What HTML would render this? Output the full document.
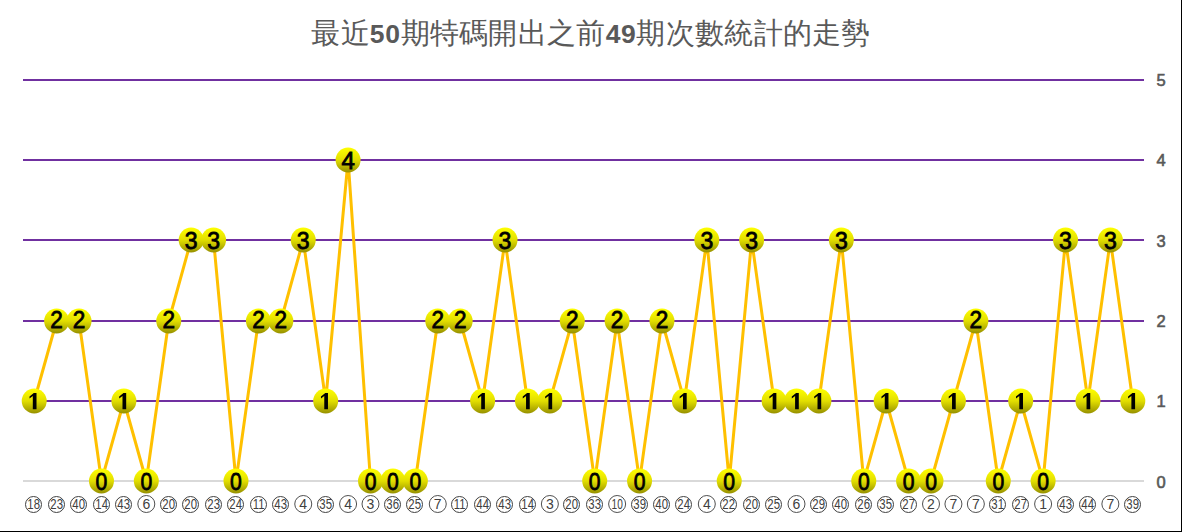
<!DOCTYPE html>
<html><head><meta charset="utf-8"><style>
html,body{margin:0;padding:0;background:#fff;}
body{width:1182px;height:532px;overflow:hidden;position:relative;}
#c{position:absolute;left:0;top:0;width:1181px;height:531px;border-right:1px solid #000;border-bottom:1px solid #000;background:#fff;}
svg{position:absolute;left:0;top:0;}
.ax{font-family:"Liberation Sans",sans-serif;font-size:16.5px;fill:#595959;stroke:#595959;stroke-width:0.6px;}
.mk{font-family:"Liberation Sans",sans-serif;font-size:24px;fill:#000;stroke:#000;stroke-width:0.8px;text-anchor:middle;}
.xl{font-family:"Liberation Sans",sans-serif;font-size:15px;fill:#404040;text-anchor:middle;}
.xl1{font-family:"Liberation Sans",sans-serif;font-size:14px;fill:#404040;text-anchor:middle;}
#t{position:absolute;left:0;top:15px;width:1182px;text-align:center;font-family:"Liberation Serif",serif;font-size:29px;letter-spacing:0.3px;line-height:36px;color:#595959;white-space:nowrap;}
#t b{font-family:"Liberation Sans",sans-serif;font-size:26.5px;letter-spacing:0.6px;}
</style></head><body>
<div id="c"></div>
<svg width="1181" height="531" viewBox="0 0 1181 531">
<defs><linearGradient id="g" x1="0" y1="0" x2="0" y2="1">
<stop offset="0" stop-color="#ffff00"/><stop offset="0.5" stop-color="#e2de00"/><stop offset="1" stop-color="#969000"/></linearGradient></defs>
<rect x="0" y="0" width="1182" height="532" fill="#fff"/>
<rect x="23" y="400" width="1121" height="2" fill="#7030a0"/>
<rect x="23" y="320" width="1121" height="2" fill="#7030a0"/>
<rect x="23" y="239" width="1121" height="2" fill="#7030a0"/>
<rect x="23" y="159" width="1121" height="2" fill="#7030a0"/>
<rect x="23" y="79" width="1121" height="2" fill="#7030a0"/>
<rect x="23" y="480" width="1121" height="2" fill="#d9d9d9"/>
<text x="1156.6" y="488" class="ax">0</text>
<text x="1156.6" y="407" class="ax">1</text>
<text x="1156.6" y="327" class="ax">2</text>
<text x="1156.6" y="247" class="ax">3</text>
<text x="1156.6" y="166" class="ax">4</text>
<text x="1156.6" y="86" class="ax">5</text>
<polyline points="34.21,401 56.63,321 79.05,321 101.47,481 123.89,401 146.31,481 168.73,321 191.15,240 213.57,240 235.99,481 258.41,321 280.83,321 303.25,240 325.67,401 348.09,160 370.51,481 392.93,481 415.35,481 437.77,321 460.19,321 482.61,401 505.03,240 527.45,401 549.87,401 572.29,321 594.71,481 617.13,321 639.55,481 661.97,321 684.39,401 706.81,240 729.23,481 751.65,240 774.07,401 796.49,401 818.91,401 841.33,240 863.75,481 886.17,401 908.59,481 931.01,481 953.43,401 975.85,321 998.27,481 1020.69,401 1043.11,481 1065.53,240 1087.95,401 1110.37,240 1132.79,401" fill="none" stroke="#ffc000" stroke-width="3" stroke-linejoin="round"/>
<circle cx="34.21" cy="401" r="12.5" fill="url(#g)"/>
<polygon points="32.81,409.20 36.51,409.20 36.51,393.00 33.81,393.00 29.51,396.40 29.51,398.40 32.81,396.10" fill="#000"/>
<circle cx="56.63" cy="321" r="12.5" fill="url(#g)"/>
<text transform="translate(56.63,328) scale(0.94,1)" x="0" y="0" class="mk">2</text>
<circle cx="79.05" cy="321" r="12.5" fill="url(#g)"/>
<text transform="translate(79.05,328) scale(0.94,1)" x="0" y="0" class="mk">2</text>
<circle cx="101.47" cy="481" r="12.5" fill="url(#g)"/>
<text transform="translate(101.47,489.5) scale(0.88,1)" x="0" y="0" class="mk">0</text>
<circle cx="123.89" cy="401" r="12.5" fill="url(#g)"/>
<polygon points="122.49,409.20 126.19,409.20 126.19,393.00 123.49,393.00 119.19,396.40 119.19,398.40 122.49,396.10" fill="#000"/>
<circle cx="146.31" cy="481" r="12.5" fill="url(#g)"/>
<text transform="translate(146.31,489.5) scale(0.88,1)" x="0" y="0" class="mk">0</text>
<circle cx="168.73" cy="321" r="12.5" fill="url(#g)"/>
<text transform="translate(168.73,328) scale(0.94,1)" x="0" y="0" class="mk">2</text>
<circle cx="191.15" cy="240" r="12.5" fill="url(#g)"/>
<text transform="translate(191.15,248.5) scale(0.96,1)" x="0" y="0" class="mk">3</text>
<circle cx="213.57" cy="240" r="12.5" fill="url(#g)"/>
<text transform="translate(213.57,248.5) scale(0.96,1)" x="0" y="0" class="mk">3</text>
<circle cx="235.99" cy="481" r="12.5" fill="url(#g)"/>
<text transform="translate(235.99,489.5) scale(0.88,1)" x="0" y="0" class="mk">0</text>
<circle cx="258.41" cy="321" r="12.5" fill="url(#g)"/>
<text transform="translate(258.41,328) scale(0.94,1)" x="0" y="0" class="mk">2</text>
<circle cx="280.83" cy="321" r="12.5" fill="url(#g)"/>
<text transform="translate(280.83,328) scale(0.94,1)" x="0" y="0" class="mk">2</text>
<circle cx="303.25" cy="240" r="12.5" fill="url(#g)"/>
<text transform="translate(303.25,248.5) scale(0.96,1)" x="0" y="0" class="mk">3</text>
<circle cx="325.67" cy="401" r="12.5" fill="url(#g)"/>
<polygon points="324.27,409.20 327.97,409.20 327.97,393.00 325.27,393.00 320.97,396.40 320.97,398.40 324.27,396.10" fill="#000"/>
<circle cx="348.09" cy="160" r="12.5" fill="url(#g)"/>
<text transform="translate(348.09,168.5) scale(1.0,1)" x="0" y="0" class="mk">4</text>
<circle cx="370.51" cy="481" r="12.5" fill="url(#g)"/>
<text transform="translate(370.51,489.5) scale(0.88,1)" x="0" y="0" class="mk">0</text>
<circle cx="392.93" cy="481" r="12.5" fill="url(#g)"/>
<text transform="translate(392.93,489.5) scale(0.88,1)" x="0" y="0" class="mk">0</text>
<circle cx="415.35" cy="481" r="12.5" fill="url(#g)"/>
<text transform="translate(415.35,489.5) scale(0.88,1)" x="0" y="0" class="mk">0</text>
<circle cx="437.77" cy="321" r="12.5" fill="url(#g)"/>
<text transform="translate(437.77,328) scale(0.94,1)" x="0" y="0" class="mk">2</text>
<circle cx="460.19" cy="321" r="12.5" fill="url(#g)"/>
<text transform="translate(460.19,328) scale(0.94,1)" x="0" y="0" class="mk">2</text>
<circle cx="482.61" cy="401" r="12.5" fill="url(#g)"/>
<polygon points="481.21,409.20 484.91,409.20 484.91,393.00 482.21,393.00 477.91,396.40 477.91,398.40 481.21,396.10" fill="#000"/>
<circle cx="505.03" cy="240" r="12.5" fill="url(#g)"/>
<text transform="translate(505.03,248.5) scale(0.96,1)" x="0" y="0" class="mk">3</text>
<circle cx="527.45" cy="401" r="12.5" fill="url(#g)"/>
<polygon points="526.05,409.20 529.75,409.20 529.75,393.00 527.05,393.00 522.75,396.40 522.75,398.40 526.05,396.10" fill="#000"/>
<circle cx="549.87" cy="401" r="12.5" fill="url(#g)"/>
<polygon points="548.47,409.20 552.17,409.20 552.17,393.00 549.47,393.00 545.17,396.40 545.17,398.40 548.47,396.10" fill="#000"/>
<circle cx="572.29" cy="321" r="12.5" fill="url(#g)"/>
<text transform="translate(572.29,328) scale(0.94,1)" x="0" y="0" class="mk">2</text>
<circle cx="594.71" cy="481" r="12.5" fill="url(#g)"/>
<text transform="translate(594.71,489.5) scale(0.88,1)" x="0" y="0" class="mk">0</text>
<circle cx="617.13" cy="321" r="12.5" fill="url(#g)"/>
<text transform="translate(617.13,328) scale(0.94,1)" x="0" y="0" class="mk">2</text>
<circle cx="639.55" cy="481" r="12.5" fill="url(#g)"/>
<text transform="translate(639.55,489.5) scale(0.88,1)" x="0" y="0" class="mk">0</text>
<circle cx="661.97" cy="321" r="12.5" fill="url(#g)"/>
<text transform="translate(661.97,328) scale(0.94,1)" x="0" y="0" class="mk">2</text>
<circle cx="684.39" cy="401" r="12.5" fill="url(#g)"/>
<polygon points="682.99,409.20 686.69,409.20 686.69,393.00 683.99,393.00 679.69,396.40 679.69,398.40 682.99,396.10" fill="#000"/>
<circle cx="706.81" cy="240" r="12.5" fill="url(#g)"/>
<text transform="translate(706.81,248.5) scale(0.96,1)" x="0" y="0" class="mk">3</text>
<circle cx="729.23" cy="481" r="12.5" fill="url(#g)"/>
<text transform="translate(729.23,489.5) scale(0.88,1)" x="0" y="0" class="mk">0</text>
<circle cx="751.65" cy="240" r="12.5" fill="url(#g)"/>
<text transform="translate(751.65,248.5) scale(0.96,1)" x="0" y="0" class="mk">3</text>
<circle cx="774.07" cy="401" r="12.5" fill="url(#g)"/>
<polygon points="772.67,409.20 776.37,409.20 776.37,393.00 773.67,393.00 769.37,396.40 769.37,398.40 772.67,396.10" fill="#000"/>
<circle cx="796.49" cy="401" r="12.5" fill="url(#g)"/>
<polygon points="795.09,409.20 798.79,409.20 798.79,393.00 796.09,393.00 791.79,396.40 791.79,398.40 795.09,396.10" fill="#000"/>
<circle cx="818.91" cy="401" r="12.5" fill="url(#g)"/>
<polygon points="817.51,409.20 821.21,409.20 821.21,393.00 818.51,393.00 814.21,396.40 814.21,398.40 817.51,396.10" fill="#000"/>
<circle cx="841.33" cy="240" r="12.5" fill="url(#g)"/>
<text transform="translate(841.33,248.5) scale(0.96,1)" x="0" y="0" class="mk">3</text>
<circle cx="863.75" cy="481" r="12.5" fill="url(#g)"/>
<text transform="translate(863.75,489.5) scale(0.88,1)" x="0" y="0" class="mk">0</text>
<circle cx="886.17" cy="401" r="12.5" fill="url(#g)"/>
<polygon points="884.77,409.20 888.47,409.20 888.47,393.00 885.77,393.00 881.47,396.40 881.47,398.40 884.77,396.10" fill="#000"/>
<circle cx="908.59" cy="481" r="12.5" fill="url(#g)"/>
<text transform="translate(908.59,489.5) scale(0.88,1)" x="0" y="0" class="mk">0</text>
<circle cx="931.01" cy="481" r="12.5" fill="url(#g)"/>
<text transform="translate(931.01,489.5) scale(0.88,1)" x="0" y="0" class="mk">0</text>
<circle cx="953.43" cy="401" r="12.5" fill="url(#g)"/>
<polygon points="952.03,409.20 955.73,409.20 955.73,393.00 953.03,393.00 948.73,396.40 948.73,398.40 952.03,396.10" fill="#000"/>
<circle cx="975.85" cy="321" r="12.5" fill="url(#g)"/>
<text transform="translate(975.85,328) scale(0.94,1)" x="0" y="0" class="mk">2</text>
<circle cx="998.27" cy="481" r="12.5" fill="url(#g)"/>
<text transform="translate(998.27,489.5) scale(0.88,1)" x="0" y="0" class="mk">0</text>
<circle cx="1020.69" cy="401" r="12.5" fill="url(#g)"/>
<polygon points="1019.29,409.20 1022.99,409.20 1022.99,393.00 1020.29,393.00 1015.99,396.40 1015.99,398.40 1019.29,396.10" fill="#000"/>
<circle cx="1043.11" cy="481" r="12.5" fill="url(#g)"/>
<text transform="translate(1043.11,489.5) scale(0.88,1)" x="0" y="0" class="mk">0</text>
<circle cx="1065.53" cy="240" r="12.5" fill="url(#g)"/>
<text transform="translate(1065.53,248.5) scale(0.96,1)" x="0" y="0" class="mk">3</text>
<circle cx="1087.95" cy="401" r="12.5" fill="url(#g)"/>
<polygon points="1086.55,409.20 1090.25,409.20 1090.25,393.00 1087.55,393.00 1083.25,396.40 1083.25,398.40 1086.55,396.10" fill="#000"/>
<circle cx="1110.37" cy="240" r="12.5" fill="url(#g)"/>
<text transform="translate(1110.37,248.5) scale(0.96,1)" x="0" y="0" class="mk">3</text>
<circle cx="1132.79" cy="401" r="12.5" fill="url(#g)"/>
<polygon points="1131.39,409.20 1135.09,409.20 1135.09,393.00 1132.39,393.00 1128.09,396.40 1128.09,398.40 1131.39,396.10" fill="#000"/>
<circle cx="33.50" cy="504.5" r="8" fill="none" stroke="#404040" stroke-width="1"/>
<text transform="translate(33.70,509) scale(0.76,1)" x="0" y="0" class="xl">18</text>
<circle cx="56.50" cy="504.5" r="8" fill="none" stroke="#404040" stroke-width="1"/>
<text transform="translate(56.70,509) scale(0.76,1)" x="0" y="0" class="xl">23</text>
<circle cx="78.50" cy="504.5" r="8" fill="none" stroke="#404040" stroke-width="1"/>
<text transform="translate(78.70,509) scale(0.76,1)" x="0" y="0" class="xl">40</text>
<circle cx="101.50" cy="504.5" r="8" fill="none" stroke="#404040" stroke-width="1"/>
<text transform="translate(101.70,509) scale(0.76,1)" x="0" y="0" class="xl">14</text>
<circle cx="123.50" cy="504.5" r="8" fill="none" stroke="#404040" stroke-width="1"/>
<text transform="translate(123.70,509) scale(0.76,1)" x="0" y="0" class="xl">43</text>
<circle cx="146.31" cy="504" r="8.5" fill="none" stroke="#505050" stroke-width="1"/>
<text x="146.31" y="509" class="xl1">6</text>
<circle cx="168.50" cy="504.5" r="8" fill="none" stroke="#404040" stroke-width="1"/>
<text transform="translate(168.70,509) scale(0.76,1)" x="0" y="0" class="xl">20</text>
<circle cx="190.50" cy="504.5" r="8" fill="none" stroke="#404040" stroke-width="1"/>
<text transform="translate(190.70,509) scale(0.76,1)" x="0" y="0" class="xl">20</text>
<circle cx="213.50" cy="504.5" r="8" fill="none" stroke="#404040" stroke-width="1"/>
<text transform="translate(213.70,509) scale(0.76,1)" x="0" y="0" class="xl">23</text>
<circle cx="235.50" cy="504.5" r="8" fill="none" stroke="#404040" stroke-width="1"/>
<text transform="translate(235.70,509) scale(0.76,1)" x="0" y="0" class="xl">24</text>
<circle cx="258.50" cy="504.5" r="8" fill="none" stroke="#404040" stroke-width="1"/>
<text transform="translate(258.70,509) scale(0.76,1)" x="0" y="0" class="xl">11</text>
<circle cx="280.50" cy="504.5" r="8" fill="none" stroke="#404040" stroke-width="1"/>
<text transform="translate(280.70,509) scale(0.76,1)" x="0" y="0" class="xl">43</text>
<circle cx="303.25" cy="504" r="8.5" fill="none" stroke="#505050" stroke-width="1"/>
<text x="303.25" y="509" class="xl1">4</text>
<circle cx="325.50" cy="504.5" r="8" fill="none" stroke="#404040" stroke-width="1"/>
<text transform="translate(325.70,509) scale(0.76,1)" x="0" y="0" class="xl">35</text>
<circle cx="348.09" cy="504" r="8.5" fill="none" stroke="#505050" stroke-width="1"/>
<text x="348.09" y="509" class="xl1">4</text>
<circle cx="370.51" cy="504" r="8.5" fill="none" stroke="#505050" stroke-width="1"/>
<text x="370.51" y="509" class="xl1">3</text>
<circle cx="392.50" cy="504.5" r="8" fill="none" stroke="#404040" stroke-width="1"/>
<text transform="translate(392.70,509) scale(0.76,1)" x="0" y="0" class="xl">36</text>
<circle cx="414.50" cy="504.5" r="8" fill="none" stroke="#404040" stroke-width="1"/>
<text transform="translate(414.70,509) scale(0.76,1)" x="0" y="0" class="xl">25</text>
<circle cx="437.77" cy="504" r="8.5" fill="none" stroke="#505050" stroke-width="1"/>
<text x="437.77" y="509" class="xl1">7</text>
<circle cx="459.50" cy="504.5" r="8" fill="none" stroke="#404040" stroke-width="1"/>
<text transform="translate(459.70,509) scale(0.76,1)" x="0" y="0" class="xl">11</text>
<circle cx="482.50" cy="504.5" r="8" fill="none" stroke="#404040" stroke-width="1"/>
<text transform="translate(482.70,509) scale(0.76,1)" x="0" y="0" class="xl">44</text>
<circle cx="504.50" cy="504.5" r="8" fill="none" stroke="#404040" stroke-width="1"/>
<text transform="translate(504.70,509) scale(0.76,1)" x="0" y="0" class="xl">43</text>
<circle cx="527.50" cy="504.5" r="8" fill="none" stroke="#404040" stroke-width="1"/>
<text transform="translate(527.70,509) scale(0.76,1)" x="0" y="0" class="xl">14</text>
<circle cx="549.87" cy="504" r="8.5" fill="none" stroke="#505050" stroke-width="1"/>
<text x="549.87" y="509" class="xl1">3</text>
<circle cx="571.50" cy="504.5" r="8" fill="none" stroke="#404040" stroke-width="1"/>
<text transform="translate(571.70,509) scale(0.76,1)" x="0" y="0" class="xl">20</text>
<circle cx="594.50" cy="504.5" r="8" fill="none" stroke="#404040" stroke-width="1"/>
<text transform="translate(594.70,509) scale(0.76,1)" x="0" y="0" class="xl">33</text>
<circle cx="617.13" cy="504" r="8.5" fill="none" stroke="#505050" stroke-width="1"/>
<text transform="translate(617.13,509) scale(0.72,1)" x="0" y="0" class="xl1">10</text>
<circle cx="639.50" cy="504.5" r="8" fill="none" stroke="#404040" stroke-width="1"/>
<text transform="translate(639.70,509) scale(0.76,1)" x="0" y="0" class="xl">39</text>
<circle cx="661.50" cy="504.5" r="8" fill="none" stroke="#404040" stroke-width="1"/>
<text transform="translate(661.70,509) scale(0.76,1)" x="0" y="0" class="xl">40</text>
<circle cx="683.50" cy="504.5" r="8" fill="none" stroke="#404040" stroke-width="1"/>
<text transform="translate(683.70,509) scale(0.76,1)" x="0" y="0" class="xl">24</text>
<circle cx="706.81" cy="504" r="8.5" fill="none" stroke="#505050" stroke-width="1"/>
<text x="706.81" y="509" class="xl1">4</text>
<circle cx="728.50" cy="504.5" r="8" fill="none" stroke="#404040" stroke-width="1"/>
<text transform="translate(728.70,509) scale(0.76,1)" x="0" y="0" class="xl">22</text>
<circle cx="751.50" cy="504.5" r="8" fill="none" stroke="#404040" stroke-width="1"/>
<text transform="translate(751.70,509) scale(0.76,1)" x="0" y="0" class="xl">20</text>
<circle cx="773.50" cy="504.5" r="8" fill="none" stroke="#404040" stroke-width="1"/>
<text transform="translate(773.70,509) scale(0.76,1)" x="0" y="0" class="xl">25</text>
<circle cx="796.49" cy="504" r="8.5" fill="none" stroke="#505050" stroke-width="1"/>
<text x="796.49" y="509" class="xl1">6</text>
<circle cx="818.50" cy="504.5" r="8" fill="none" stroke="#404040" stroke-width="1"/>
<text transform="translate(818.70,509) scale(0.76,1)" x="0" y="0" class="xl">29</text>
<circle cx="840.50" cy="504.5" r="8" fill="none" stroke="#404040" stroke-width="1"/>
<text transform="translate(840.70,509) scale(0.76,1)" x="0" y="0" class="xl">40</text>
<circle cx="863.50" cy="504.5" r="8" fill="none" stroke="#404040" stroke-width="1"/>
<text transform="translate(863.70,509) scale(0.76,1)" x="0" y="0" class="xl">26</text>
<circle cx="885.50" cy="504.5" r="8" fill="none" stroke="#404040" stroke-width="1"/>
<text transform="translate(885.70,509) scale(0.76,1)" x="0" y="0" class="xl">35</text>
<circle cx="908.50" cy="504.5" r="8" fill="none" stroke="#404040" stroke-width="1"/>
<text transform="translate(908.70,509) scale(0.76,1)" x="0" y="0" class="xl">27</text>
<circle cx="931.01" cy="504" r="8.5" fill="none" stroke="#505050" stroke-width="1"/>
<text x="931.01" y="509" class="xl1">2</text>
<circle cx="953.43" cy="504" r="8.5" fill="none" stroke="#505050" stroke-width="1"/>
<text x="953.43" y="509" class="xl1">7</text>
<circle cx="975.85" cy="504" r="8.5" fill="none" stroke="#505050" stroke-width="1"/>
<text x="975.85" y="509" class="xl1">7</text>
<circle cx="997.50" cy="504.5" r="8" fill="none" stroke="#404040" stroke-width="1"/>
<text transform="translate(997.70,509) scale(0.76,1)" x="0" y="0" class="xl">31</text>
<circle cx="1020.50" cy="504.5" r="8" fill="none" stroke="#404040" stroke-width="1"/>
<text transform="translate(1020.70,509) scale(0.76,1)" x="0" y="0" class="xl">27</text>
<circle cx="1043.11" cy="504" r="8.5" fill="none" stroke="#505050" stroke-width="1"/>
<text x="1043.11" y="509" class="xl1">1</text>
<circle cx="1065.50" cy="504.5" r="8" fill="none" stroke="#404040" stroke-width="1"/>
<text transform="translate(1065.70,509) scale(0.76,1)" x="0" y="0" class="xl">43</text>
<circle cx="1087.50" cy="504.5" r="8" fill="none" stroke="#404040" stroke-width="1"/>
<text transform="translate(1087.70,509) scale(0.76,1)" x="0" y="0" class="xl">44</text>
<circle cx="1110.37" cy="504" r="8.5" fill="none" stroke="#505050" stroke-width="1"/>
<text x="1110.37" y="509" class="xl1">7</text>
<circle cx="1132.50" cy="504.5" r="8" fill="none" stroke="#404040" stroke-width="1"/>
<text transform="translate(1132.70,509) scale(0.76,1)" x="0" y="0" class="xl">39</text>
</svg>
<div id="t">最近<b>50</b>期特碼開出之前<b>49</b>期次數統計的走勢</div>
</body></html>
